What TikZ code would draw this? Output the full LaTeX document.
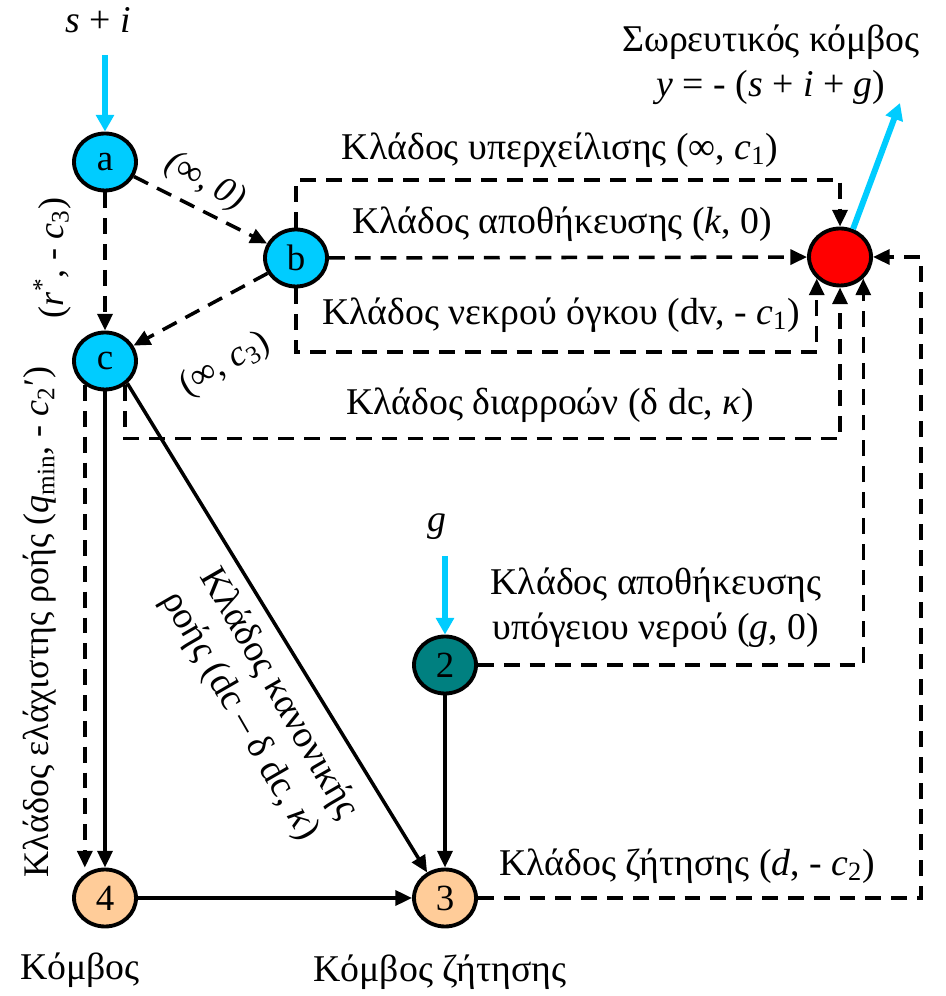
\documentclass[tikz,border=0pt]{standalone}
\usepackage{fontspec}
\setmainfont{Liberation Serif}
\usetikzlibrary{arrows.meta,shapes.geometric,calc}
\definecolor{inblue}{HTML}{00CCFF}
\definecolor{gwteal}{HTML}{008080}
\definecolor{dempeach}{HTML}{FFCC99}
\definecolor{sinkred}{HTML}{FF0000}

\begin{document}
\begin{tikzpicture}[
 junction/.style={ellipse,draw=black,line width=2.2pt,minimum width=1.24cm,minimum height=1.14cm,inner sep=0pt,font=\fontsize{21}{25}\selectfont},
 resnode/.style={junction,fill=inblue},
 gwnode/.style={junction,fill=gwteal},
 demnode/.style={junction,fill=dempeach},
 sinknode/.style={junction,fill=sinkred},
 arc/.style={draw=black,line width=2pt,-{Triangle[length=9.5pt,width=8.5pt]}},
 dasharc/.style={arc,dash pattern=on 9pt off 5.7pt},
 inflow/.style={draw=inblue,line width=3.4pt,-{Triangle[length=9.5pt,width=10pt]}},
 lbl/.style={font=\fontsize{21.5}{25.5}\selectfont,align=center,inner sep=0pt},
 sidelbl/.style={lbl,font=\fontsize{20.5}{24.5}\selectfont}]

\useasboundingbox (0,0) rectangle (18.9,19.92);

% Network nodes.
\node[resnode] (a) at (2.10,16.68) {a};
\node[resnode] (b) at (5.92,14.76) {b};
\node[resnode] (c) at (2.10,12.70) {c};
\node[sinknode] (sink) at (16.80,14.78) {};
\node[gwnode] (n2) at (8.90,6.62) {2};
\node[demnode] (n3) at (8.90,1.96) {3};
\node[demnode] (n4) at (2.10,1.96) {4};

% Inflows and the outflow of the sink.
\node[lbl] (si) at (1.96,19.52) {\textit{s} + \textit{i}};
\coordinate (sitop) at (2.10,18.82);
\draw[inflow] (sitop) -- (a.north);
\node[lbl] (gin) at (8.74,9.38) {\textit{g}};
\coordinate (gtop) at (8.90,8.80);
\draw[inflow] (gtop) -- (n2.north);
\node[lbl] (sinktxt) at (15.42,18.62) {Σωρευτικός κόμβος\\\textit{y} = - (\textit{s} + \textit{i} + \textit{g})};
\coordinate (yout) at (18.0,17.86);
\draw[inflow] (sink.65) -- (yout);

% Links between the reservoir nodes and the demand nodes.
\draw[dasharc] (a) -- (b);
\draw[dasharc] (a) -- (c);
\draw[dasharc] (b) -- (c);
\draw[arc] (c) -- (n4);
\draw[dasharc] (c.230) -- (c.230 |- n4.north);
\draw[arc] (c.-45) -- (n3.125);
\draw[arc] (n4) -- (n3);
\draw[arc] (n2) -- (n3);

% Branches into the sink.
\draw[dasharc] (b.north) -- ++(0,0.95) -| (sink.north);
\draw[dasharc] (b) -- (sink);
\draw[dasharc] (b.south) -- ++(0,-1.27) -| (sink.south west);
\draw[dasharc] (c.-50) -- ++(0,-1.07) -| (sink.south);
\draw[dasharc] (n2.east) -| (sink.south east);
\draw[dasharc] (n3.east) -- ++(8.86,0) |- (sink.east);

% Branch labels.
\node[lbl] (lovf) at (11.20,16.92) {Κλάδος υπερχείλισης (∞, \textit{c}\textsubscript{1})};
\node[lbl] (lsto) at (11.24,15.44) {Κλάδος αποθήκευσης (\textit{k}, 0)};
\node[lbl] (ldead) at (11.22,13.62) {Κλάδος νεκρού όγκου (dv, - \textit{c}\textsubscript{1})};
\node[lbl] (lleak) at (11.00,11.82) {Κλάδος διαρροών (δ dc, \textit{κ})};
\node[lbl] (lgw) at (13.12,7.76) {Κλάδος αποθήκευσης\\υπόγειου νερού (\textit{g}, 0)};
\node[lbl] (ldem) at (13.74,2.60) {Κλάδος ζήτησης (\textit{d}, - \textit{c}\textsubscript{2})};
\node[lbl,rotate=-60] (lnorm) at (5.18,5.82) {Κλάδος κανονικής\\ροής (dc – δ dc, \textit{κ})};
\node[sidelbl,rotate=90] (lmin) at (0.80,7.48) {Κλάδος ελάχιστης ροής (\textit{q}\textsubscript{min}, - \textit{c}\textsubscript{2}′)};
\node[sidelbl,rotate=90] (lrc) at (1.04,14.76) {(\textit{r}\textsuperscript{*}, - \textit{c}\textsubscript{3})};
\node[sidelbl,rotate=-30] (lab) at (4.10,16.28) {\textit{(∞, 0)}};
\node[sidelbl,rotate=30] (lbc) at (4.50,12.62) {(∞, \textit{c}\textsubscript{3})};
\node[lbl] (lnode) at (1.60,0.52) {Κόμβος};
\node[lbl] (ldemnode) at (8.80,0.48) {Κόμβος ζήτησης};
\end{tikzpicture}
\end{document}
